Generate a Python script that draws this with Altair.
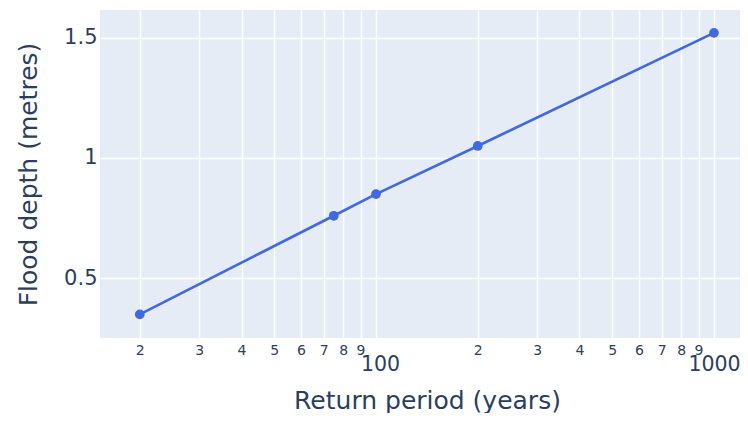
import altair as alt
import pandas as pd

return_period = [20, 75, 100, 200, 1000]
flood_depth = [0.35, 0.76, 0.85, 1.05, 1.52]
x_ticks = [20, 30, 40, 50, 60, 70, 80, 90, 100, 200, 300, 400, 500, 600, 700, 800, 900, 1000]
y_ticks = [0.5, 1, 1.5]

df = pd.DataFrame({"rp": return_period, "depth": flood_depth})

FONT = "DejaVu Sans"
INK = "#2a3f5f"
major = "datum.value == 100 || datum.value == 1000"

x = alt.X(
    "rp:Q",
    scale=alt.Scale(type="log", domain=[15.25, 1194], nice=False),
    axis=alt.Axis(
        title="Return period (years)",
        values=x_ticks,
        labelExpr="datum.value == 100 || datum.value == 1000 ? format(datum.value, 'd') : datum.value < 100 ? format(datum.value / 10, 'd') : format(datum.value / 100, 'd')",
        labelOverlap=False,
        labelFlush=False,
        labelBound=False,
        labelBaseline="top",
        labelFontSize={"condition": {"test": major, "value": 20.5}, "value": 14},
        labelPadding={"condition": {"test": major, "value": 16}, "value": 5},
        labelOffset={"condition": {"test": "datum.value == 100", "value": 4}, "value": 0},
        titleX=327,
        titleY=70,
        titleAlign="center",
        titleBaseline="alphabetic",
        titleFontSize=25,
    ),
)
y = alt.Y(
    "depth:Q",
    scale=alt.Scale(domain=[0.252, 1.615], nice=False, zero=False),
    axis=alt.Axis(
        title="Flood depth (metres)",
        values=y_ticks,
        format="~g",
        labelFontSize=21,
        labelPadding=3,
        titleFontSize=25,
        titleX=-64,
        titleY=164,
        titleAngle=270,
        titleAlign="center",
        titleBaseline="alphabetic",
    ),
)

line = alt.Chart(df).mark_line(color="#4169E1", strokeWidth=2.7).encode(x=x, y=y)
pts = alt.Chart(df).mark_circle(color="#4169E1", size=95, opacity=1).encode(x=x, y=y)

chart = (
    alt.layer(line, pts)
    .properties(
        width=640,
        height=328,
        autosize=alt.AutoSizeParams(type="none"),
        padding={"left": 92, "top": 2, "right": 0, "bottom": 75},
        background="white",
    )
    .configure_view(fill="#E5ECF6", stroke=None)
    .configure_axis(
        grid=True,
        gridColor="white",
        gridWidth=1.5,
        domain=False,
        ticks=False,
        labelFont=FONT,
        titleFont=FONT,
        labelColor=INK,
        titleColor=INK,
        titleFontWeight="normal",
    )
)

chart.save("out.html", embed_options={"renderer": "svg", "actions": False})
